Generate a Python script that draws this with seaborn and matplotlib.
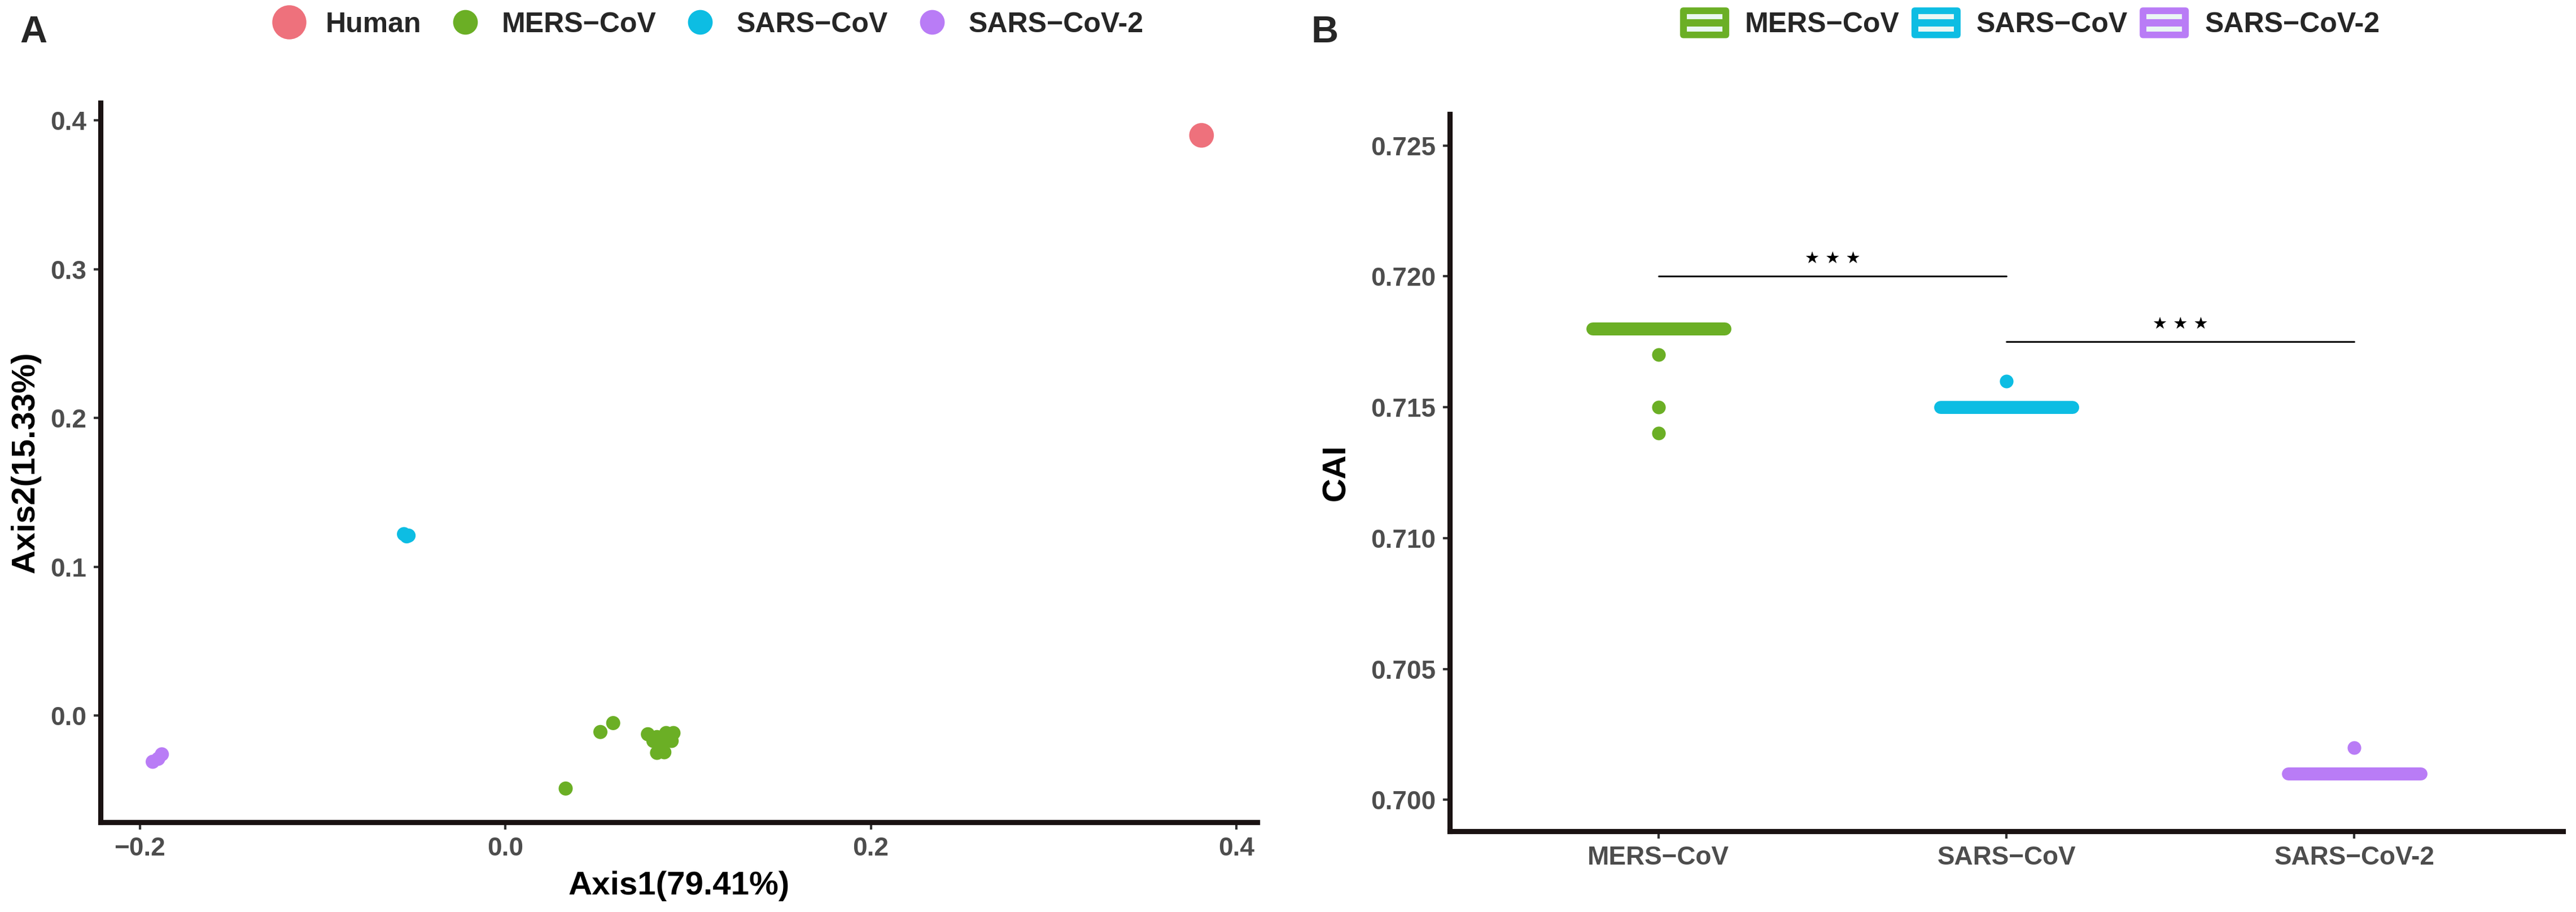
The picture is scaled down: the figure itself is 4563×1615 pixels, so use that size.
import numpy as np
import pandas as pd
import matplotlib
matplotlib.use("Agg")
import matplotlib.pyplot as plt
import seaborn as sns
from matplotlib.lines import Line2D
from matplotlib.patches import Patch, Rectangle, FancyBboxPatch
from matplotlib.legend_handler import HandlerBase

# panel A: PCA coordinates
groups = ["Human", "MERS−CoV", "SARS−CoV", "SARS−CoV-2"]
colors = ["#EE717C", "#6BAF25", "#0DBDE3", "#B97CF6"]

human_x = [0.381]
human_y = [0.390]
mers_x = [0.033, 0.052, 0.059, 0.078, 0.083, 0.088, 0.092, 0.091, 0.085, 0.083, 0.087, 0.081]
mers_y = [-0.049, -0.011, -0.005, -0.0125, -0.0144, -0.0117, -0.0117, -0.017, -0.020, -0.025, -0.0246, -0.017]
sars_x = [-0.0555, -0.053, -0.054]
sars_y = [0.122, 0.121, 0.1205]
cov2_x = [-0.193, -0.190, -0.188]
cov2_y = [-0.031, -0.029, -0.026]

# panel B: CAI values per virus
viruses = ["MERS−CoV", "SARS−CoV", "SARS−CoV-2"]
mers_cai = [0.718] * 30 + [0.717, 0.715, 0.714]
sars_cai = [0.715] * 20 + [0.716]
cov2_cai = [0.701] * 40 + [0.702]

pca = pd.concat([
    pd.DataFrame({"x": human_x, "y": human_y, "group": groups[0]}),
    pd.DataFrame({"x": mers_x, "y": mers_y, "group": groups[1]}),
    pd.DataFrame({"x": sars_x, "y": sars_y, "group": groups[2]}),
    pd.DataFrame({"x": cov2_x, "y": cov2_y, "group": groups[3]}),
], ignore_index=True)

cai = pd.concat([
    pd.DataFrame({"virus": viruses[0], "CAI": mers_cai}),
    pd.DataFrame({"virus": viruses[1], "CAI": sars_cai}),
    pd.DataFrame({"virus": viruses[2], "CAI": cov2_cai}),
], ignore_index=True)


class BoxKey(HandlerBase):
    # ggplot-like boxplot legend key: filled box with two pale bars
    def create_artists(self, legend, orig_handle, xdescent, ydescent,
                       width, height, fontsize, trans):
        c = orig_handle.get_facecolor()
        x0, y0 = -xdescent, -ydescent
        box = FancyBboxPatch((x0, y0), width, height,
                             boxstyle="round,pad=0,rounding_size=1.5",
                             fc=c, ec="none", transform=trans)
        bars = [Rectangle((x0 + 0.14 * width, y0 + b * height), 0.72 * width,
                          0.16 * height, fc="#EAF7F4", ec="none", transform=trans)
                for b in (0.22, 0.62)]
        return [box] + bars


sns.set_theme(style="ticks")
fam = ["Liberation Sans", "DejaVu Sans"]
plt.rcParams["font.family"] = fam
plt.rcParams["font.weight"] = "bold"

fig = plt.figure(figsize=(4563 / 300, 1615 / 300), dpi=300)
axA = fig.add_axes([0.039, 0.0985, 0.449, 0.7885])
axB = fig.add_axes([0.5628, 0.0885, 0.4322, 0.7865])

pal = dict(zip(groups, colors))
sizes = {g: (110 if g == "Human" else 36) for g in groups}
sns.scatterplot(data=pca, x="x", y="y", hue="group", size="group", sizes=sizes,
                palette=pal, hue_order=groups, linewidth=0, alpha=1,
                legend=False, ax=axA)
axA.set_xlim(-0.2216, 0.4114)
axA.set_ylim(-0.0716, 0.4117)
axA.set_xticks([-0.2, 0.0, 0.2, 0.4])
axA.set_yticks([0.0, 0.1, 0.2, 0.3, 0.4])
axA.set_xlabel("Axis1(79.41%)", fontsize=14, fontweight="bold", color="black", labelpad=4)
axA.set_ylabel("Axis2(15.33%)", fontsize=14, fontweight="bold", color="black", labelpad=4)

for i, v in enumerate(viruses):
    c = colors[i + 1]
    sns.boxplot(data=cai[cai["virus"] == v], x="virus", y="CAI", order=viruses,
                color=c, linecolor=c, width=0.38, linewidth=5.5, fliersize=4.8,
                saturation=1,
                boxprops=dict(joinstyle="round"),
                medianprops=dict(solid_capstyle="round"),
                flierprops=dict(marker="o", markerfacecolor=c, markeredgecolor=c),
                ax=axB)
axB.set_xlim(-0.6, 2.6)
axB.set_ylim(0.6988, 0.7262)
axB.set_yticks([0.700, 0.705, 0.710, 0.715, 0.720, 0.725])
axB.set_yticklabels([f"{t:.3f}" for t in axB.get_yticks()])
axB.set_xlabel("")
axB.set_ylabel("CAI", fontsize=14, fontweight="bold", color="black", labelpad=8)

# significance brackets
for (a, b), h in [((0, 1), 0.720), ((1, 2), 0.7175)]:
    axB.plot([a, b], [h, h], color="black", lw=0.7)
    axB.text((a + b) / 2, h + 0.00035, "★ ★ ★", ha="center", va="bottom",
             fontsize=7, family=["DejaVu Sans"], color="black")

for ax in (axA, axB):
    sns.despine(ax=ax)
    for s in ("left", "bottom"):
        ax.spines[s].set_linewidth(2.2)
        ax.spines[s].set_color("#1a1212")
    ax.tick_params(axis="both", length=3, width=1.0, color="#333333",
                   labelsize=11, labelcolor="#4D4D4D", pad=3)
    for lab in ax.get_xticklabels() + ax.get_yticklabels():
        lab.set_fontweight("bold")
    ax.grid(False)

# legends
hA = [Line2D([], [], ls="none", marker="o", markersize=13.5 if g == "Human" else 9.5,
             markerfacecolor=c, markeredgecolor=c) for g, c in zip(groups, colors)]
fig.legend(hA, groups, loc="center", bbox_to_anchor=(0.2753, 0.973), ncol=4,
           frameon=False, handlelength=1.0, handletextpad=0.8, columnspacing=1.05,
           prop=dict(weight="bold", size=12, family=fam))

hB = [Patch(facecolor=c) for c in colors[1:]]
fig.legend(hB, viruses, loc="center", bbox_to_anchor=(0.788, 0.975), ncol=3,
           frameon=False, handler_map={Patch: BoxKey()},
           handlelength=1.74, handleheight=1.3, handletextpad=0.56, columnspacing=0.42,
           prop=dict(weight="bold", size=12, family=fam))

fig.text(0.0077, 0.964, "A", fontsize=16, fontweight="bold", va="center", ha="left")
fig.text(0.509, 0.964, "B", fontsize=16, fontweight="bold", va="center", ha="left")

fig.savefig("out.png", dpi=300, facecolor="white")
